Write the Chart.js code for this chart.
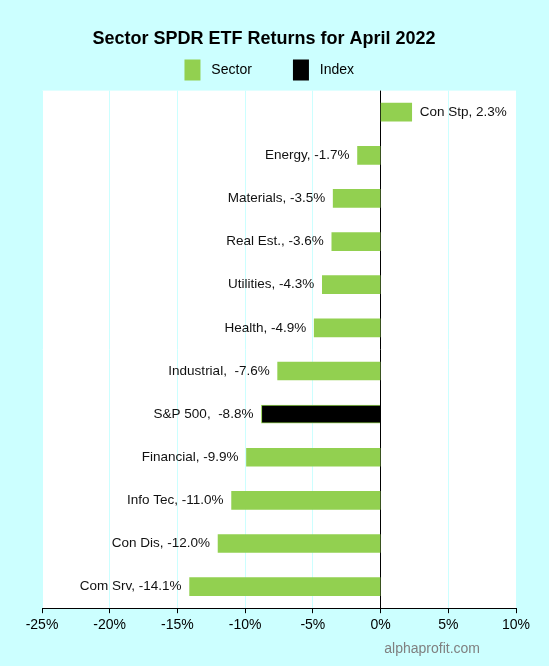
<!DOCTYPE html>
<html>
<head>
<meta charset="utf-8">
<script src="https://cdn.jsdelivr.net/npm/chart.js@4/dist/chart.umd.min.js"></script>
<style>
  html, body { margin: 0; padding: 0; background: #ccffff; }
  #wrap { width: 549px; height: 666px; }
</style>
</head>
<body>
<div id="wrap"><canvas id="etfChart" width="549" height="666"></canvas></div>
<script>
// April 2022 returns, top to bottom
const sectors = ['Con Stp', 'Energy', 'Materials', 'Real Est.', 'Utilities', 'Health',
                 'Industrial', 'S&P 500', 'Financial', 'Info Tec', 'Con Dis', 'Com Srv'];
const returns = [2.3, -1.7, -3.5, -3.6, -4.3, -4.9, -7.6, -8.8, -9.9, -11.0, -12.0, -14.1];
const barLabels = ['Con Stp, 2.3%', 'Energy, -1.7%', 'Materials, -3.5%', 'Real Est., -3.6%',
                   'Utilities, -4.3%', 'Health, -4.9%', 'Industrial,  -7.6%', 'S&P 500,  -8.8%',
                   'Financial, -9.9%', 'Info Tec, -11.0%', 'Con Dis, -12.0%', 'Com Srv, -14.1%'];
const xTicks = [-25, -20, -15, -10, -5, 0, 5, 10];

const GREEN = '#92d050';
const INDEX_NAME = 'S&P 500';

const barColors = sectors.map(s => s === INDEX_NAME ? '#000000' : GREEN);

// white plot area on the cyan page
const plotBg = {
    id: 'plotBg',
    beforeDraw(chart) {
        const { ctx, chartArea: a } = chart;
        ctx.save();
        ctx.fillStyle = '#ffffff';
        ctx.fillRect(a.left, a.top, a.right - a.left, a.bottom - a.top);
        ctx.restore();
    }
};

// "name, value%" next to each bar end
const barText = {
    id: 'barText',
    afterDatasetsDraw(chart) {
        const ctx = chart.ctx;
        const meta = chart.getDatasetMeta(0);
        ctx.save();
        ctx.font = '13.5px "Liberation Sans", Arial, sans-serif';
        ctx.fillStyle = '#111111';
        ctx.textBaseline = 'middle';
        meta.data.forEach((bar, i) => {
            if (returns[i] >= 0) {
                ctx.textAlign = 'left';
                ctx.fillText(barLabels[i], bar.x + 8, bar.y);
            } else {
                ctx.textAlign = 'right';
                ctx.fillText(barLabels[i], bar.x - 8, bar.y);
            }
        });
        ctx.restore();
    }
};

const watermark = {
    id: 'watermark',
    afterDraw(chart) {
        const ctx = chart.ctx;
        ctx.save();
        ctx.font = '14px "Liberation Sans", Arial, sans-serif';
        ctx.fillStyle = '#808080';
        ctx.textAlign = 'right';
        ctx.textBaseline = 'middle';
        ctx.fillText('alphaprofit.com', 480, 649);
        ctx.restore();
    }
};

// non-breaking spaces widen items so they sit where the original put them
const sp = n => '\u00a0'.repeat(n);

new Chart(document.getElementById('etfChart'), {
    type: 'bar',
    data: {
        labels: sectors,
        datasets: [{
            data: returns,
            backgroundColor: barColors,
            borderColor: GREEN,
            borderWidth: sectors.map(s => s === INDEX_NAME ? 1 : 0),
            barThickness: 18
        }]
    },
    options: {
        indexAxis: 'y',
        responsive: false,
        animation: false,
        layout: { padding: { top: 28, left: 42, right: 33, bottom: 28 } },
        plugins: {
            title: {
                display: true,
                text: 'Sector SPDR ETF Returns for April 2022' + sp(6),
                color: '#000000',
                font: { family: '"Liberation Sans", Arial, sans-serif', size: 18, weight: 'bold' },
                padding: { top: 0, bottom: 0 }
            },
            legend: {
                labels: {
                    color: '#111111',
                    font: { family: '"Liberation Sans", Arial, sans-serif', size: 14 },
                    boxWidth: 16,
                    boxHeight: 21,
                    padding: 10,
                    generateLabels: () => [
                        { text: ' Sector' + sp(8), fillStyle: GREEN, strokeStyle: GREEN, lineWidth: 0 },
                        { text: ' Index' + sp(5), fillStyle: '#000000', strokeStyle: '#000000', lineWidth: 0 }
                    ]
                },
                onClick: null
            },
            tooltip: { enabled: false }
        },
        scales: {
            x: {
                type: 'linear',
                min: -25,
                max: 10,
                afterBuildTicks: axis => { axis.ticks = xTicks.map(v => ({ value: v })); },
                grid: {
                    color: c => c.tick && c.tick.value === 0 ? '#000000' : '#ccffff',
                    tickColor: '#000000',
                    tickLength: 5
                },
                border: { color: '#000000', width: 1 },
                ticks: {
                    color: '#000000',
                    font: { family: '"Liberation Sans", Arial, sans-serif', size: 14 },
                    callback: v => v + '%',
                    padding: 4
                }
            },
            y: {
                display: false
            }
        }
    },
    plugins: [plotBg, barText, watermark]
});
</script>
</body>
</html>
